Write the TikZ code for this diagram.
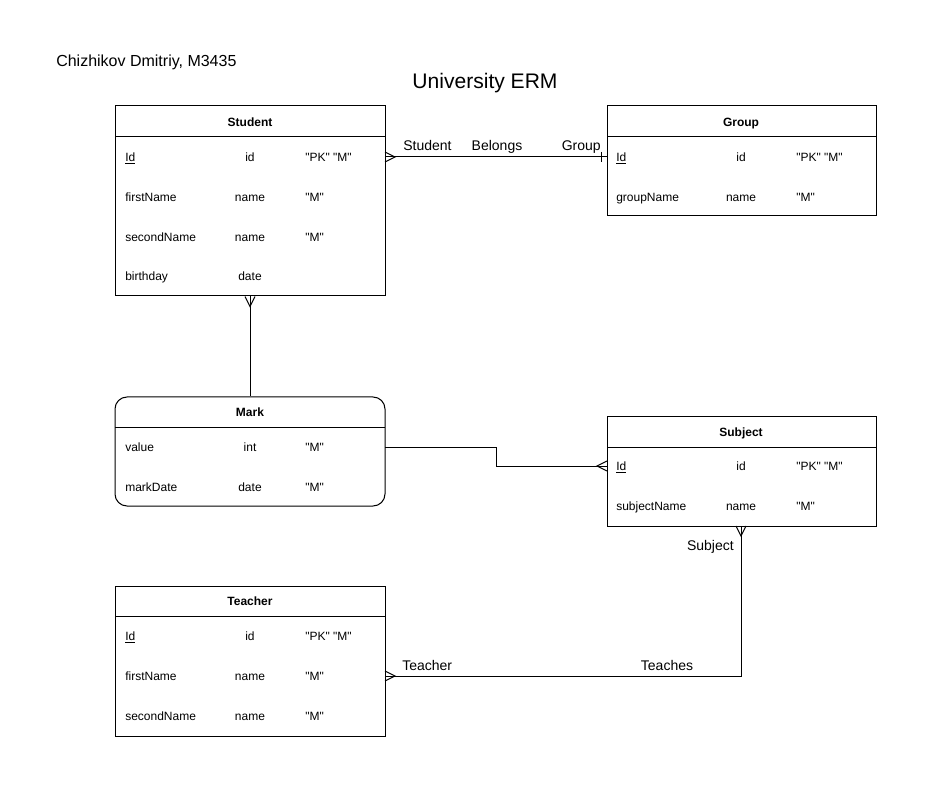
\documentclass[tikz,border=0pt]{standalone}
\usepackage{fontspec}
\setmainfont{Liberation Sans}[Ligatures=TeXOff]
\begin{document}
\begin{tikzpicture}[x=0.75pt,y=-0.75pt,
  ent/.style={draw,line width=0.75pt,inner sep=0pt,minimum width=202.5pt},
  txt/.style={font=\fontsize{9}{11}\selectfont,inner sep=0pt,text height=6.75pt,text depth=1.75pt,yshift=-0.75pt},
  hdr/.style={txt,font=\fontsize{9}{11}\selectfont\bfseries},
  fld/.style={txt,anchor=west},
  typ/.style={txt},
  lbl/.style={font=\fontsize{10.5}{12}\selectfont,inner sep=0pt},
  conn/.style={line width=0.75pt}]
\useasboundingbox (0,0) rectangle (927,787);
\fill[white] (0,0) rectangle (927,787);

% titles
\node[font=\fontsize{12}{14}\selectfont,inner sep=0pt,anchor=west] (author) at (56,62) {Chizhikov Dmitriy, M3435};
\node[font=\fontsize{15.8}{18}\selectfont,inner sep=0pt] (title) at (485,83) {University ERM};

% Student
\node[ent,minimum height=142.5pt] (student) at (250,201) {};
\draw[conn] (115,137) -- (385,137);
\node[hdr] (studenth) at (250,122) {Student};
\node[fld] (s1a) at (125,157) {\underline{Id}};
\node[typ] (s1b) at (250,157) {id};
\node[fld] (s1c) at (305,157) {"PK" "M"};
\node[fld] (s2a) at (125,197) {firstName};
\node[typ] (s2b) at (250,197) {name};
\node[fld] (s2c) at (305,197) {"M"};
\node[fld] (s3a) at (125,237) {secondName};
\node[typ] (s3b) at (250,237) {name};
\node[fld] (s3c) at (305,237) {"M"};
\node[fld] (s4a) at (125,276) {birthday};
\node[typ] (s4b) at (250,276) {date};

% Group
\node[ent,minimum width=201.75pt,minimum height=82.5pt] (group) at (741.5,161) {};
\draw[conn] (607,137) -- (876,137);
\node[hdr] (grouph) at (741,122) {Group};
\node[fld] (g1a) at (616,157) {\underline{Id}};
\node[typ] (g1b) at (741,157) {id};
\node[fld] (g1c) at (796,157) {"PK" "M"};
\node[fld] (g2a) at (616,197) {groupName};
\node[typ] (g2b) at (741,197) {name};
\node[fld] (g2c) at (796,197) {"M"};

% Mark
\node[ent,minimum height=81.75pt,rounded corners=9pt] (mark) at (250,451.5) {};
\draw[conn] (115,427) -- (385,427);
\node[hdr] (markh) at (250,412) {Mark};
\node[fld] (m1a) at (125,447) {value};
\node[typ] (m1b) at (250,447) {int};
\node[fld] (m1c) at (305,447) {"M"};
\node[fld] (m2a) at (125,487) {markDate};
\node[typ] (m2b) at (250,487) {date};
\node[fld] (m2c) at (305,487) {"M"};

% Subject
\node[ent,minimum width=201.75pt,minimum height=82.5pt] (subject) at (741.5,471) {};
\draw[conn] (607,447) -- (876,447);
\node[hdr] (subjecth) at (741,432) {Subject};
\node[fld] (j1a) at (616,466) {\underline{Id}};
\node[typ] (j1b) at (741,466) {id};
\node[fld] (j1c) at (796,466) {"PK" "M"};
\node[fld] (j2a) at (616,506) {subjectName};
\node[typ] (j2b) at (741,506) {name};
\node[fld] (j2c) at (796,506) {"M"};

% Teacher
\node[ent,minimum height=112.5pt] (teacher) at (250,661) {};
\draw[conn] (115,616) -- (385,616);
\node[hdr] (teacherh) at (250,601) {Teacher};
\node[fld] (t1a) at (125,636) {\underline{Id}};
\node[typ] (t1b) at (250,636) {id};
\node[fld] (t1c) at (305,636) {"PK" "M"};
\node[fld] (t2a) at (125,676) {firstName};
\node[typ] (t2b) at (250,676) {name};
\node[fld] (t2c) at (305,676) {"M"};
\node[fld] (t3a) at (125,716) {secondName};
\node[typ] (t3b) at (250,716) {name};
\node[fld] (t3c) at (305,716) {"M"};

% connector end points
\coordinate (sg1) at (385,157);
\coordinate (sg2) at (607,157);
\coordinate (sm1) at (student.south);
\coordinate (sm2) at (mark.north);
\coordinate (mj1) at (385,447);
\coordinate (mj2) at (607,466);
\coordinate (jt1) at (741,526);
\coordinate (jt2) at (385,676);

% Student - Group
\draw[conn] (sg1) -- (sg2);
\draw[conn] ([yshift=3.75pt]sg1) -- ++(10,5) -- ([yshift=-3.75pt]sg1);
\draw[conn] ([xshift=-4.5pt,yshift=3.75pt]sg2) -- ([xshift=-4.5pt,yshift=-3.75pt]sg2);
\node[lbl,anchor=base west] (lstudent) at (403,151) {Student};
\node[lbl,anchor=base] (lbelongs) at (497,151) {Belongs};
\node[lbl,anchor=base east] (lgroup) at (601,151) {Group};

% Student - Mark
\draw[conn] (sm1) -- (sm2);
\draw[conn] ([xshift=-3.75pt]sm1) -- ++(5,10) -- ([xshift=3.75pt]sm1);

% Mark - Subject
\draw[conn] (mj1) -- (496,447) -- (496,466) -- (mj2);
\draw[conn] ([yshift=3.75pt]mj2) -- ++(-10,5) -- ([yshift=-3.75pt]mj2);

% Subject - Teacher
\draw[conn] (jt1) -- (741,676) -- (jt2);
\draw[conn] ([xshift=-3.75pt]jt1) -- ++(5,10) -- ([xshift=3.75pt]jt1);
\draw[conn] ([yshift=3.75pt]jt2) -- ++(10,5) -- ([yshift=-3.75pt]jt2);
\node[lbl,anchor=base east] (lsubject) at (734,550) {Subject};
\node[lbl,anchor=base west] (lteacher) at (402,670) {Teacher};
\node[lbl,anchor=base] (lteaches) at (667,670) {Teaches};
\end{tikzpicture}
\end{document}
